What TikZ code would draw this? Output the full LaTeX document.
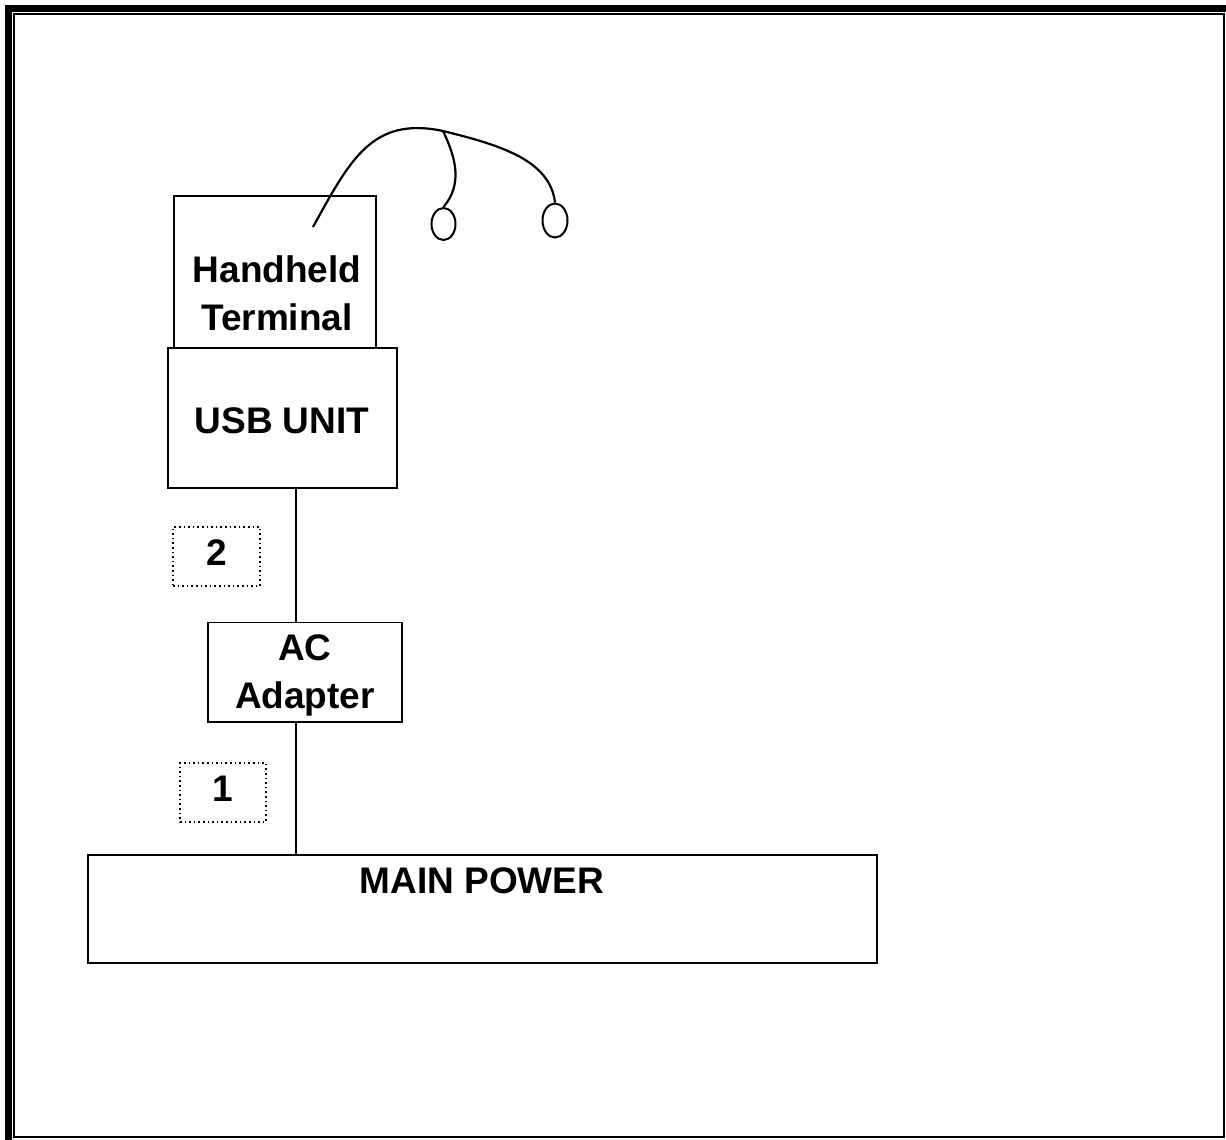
\documentclass[tikz,border=0pt]{standalone}
\usepackage{fontspec}
\setmainfont{Liberation Sans}
\usetikzlibrary{shapes.geometric}
\begin{document}
\begin{tikzpicture}[x=1pt,y=-1pt,
  box/.style={draw, line width=1.6pt, rectangle, inner sep=0pt},
  tagbox/.style={draw, line width=1.6pt, dash pattern=on 1.6pt off 3pt, rectangle, inner sep=0pt},
  lbl/.style={anchor=base, inner sep=0pt, font=\fontsize{37}{44}\selectfont\bfseries},
  wire/.style={line width=1.6pt},
  cable/.style={line width=2.2pt},
  ear/.style={draw, ellipse, line width=2pt, inner sep=0pt}]
\useasboundingbox (0,0) rectangle (1226,1140);
% page border
\draw[line width=7pt] (8.5,1145) -- (8.5,8.5) -- (1231,8.5);
\draw[line width=2.2pt] (14,14) rectangle (1224,1137);
% boxes
\node[box, minimum width=202pt, minimum height=152pt] (hh) at (275,272) {};
\node[box, minimum width=229pt, minimum height=140pt] (usb) at (282.5,418) {};
\node[box, minimum width=194pt, minimum height=99.5pt] (ac) at (305,672.25) {};
\node[box, minimum width=789pt, minimum height=108pt] (mp) at (482.5,909) {};
\node[tagbox, minimum width=87pt, minimum height=59pt] (tag2) at (216.5,556.5) {};
\node[tagbox, minimum width=86pt, minimum height=59pt] (tag1) at (223,792.5) {};
% labels
\node[lbl] (hht1) at (277,282) {Handheld};
\node[lbl] (hht2) at (277,330) {Terminal};
\node[lbl] (usbt) at (282,433) {USB UNIT};
\node[lbl] (act1) at (305,660) {AC};
\node[lbl] (act2) at (305,708) {Adapter};
\node[lbl] (t2) at (216.5,565) {2};
\node[lbl] (t1) at (222.5,801) {1};
\node[lbl] (mpt) at (482,893) {MAIN POWER};
% connectors
\coordinate (col) at (296,0);
\draw[wire] (usb.south -| col) -- (ac.north -| col);
\draw[wire] (ac.south -| col) -- (mp.north -| col);
% headset cable
\node[ear, minimum width=24pt, minimum height=32pt] (ear1) at (443.5,224) {};
\node[ear, minimum width=25pt, minimum height=34pt] (ear2) at (555,220.5) {};
\coordinate (plug) at (313,227);
\coordinate (split) at (443,131);
\draw[cable] (plug) .. controls (350,160) and (372,116) .. (split);
\draw[cable] (split) .. controls (457,160) and (462,185) .. (ear1.north);
\draw[cable] (split) .. controls (500,145) and (550,160) .. (ear2.north);
\end{tikzpicture}
\end{document}
